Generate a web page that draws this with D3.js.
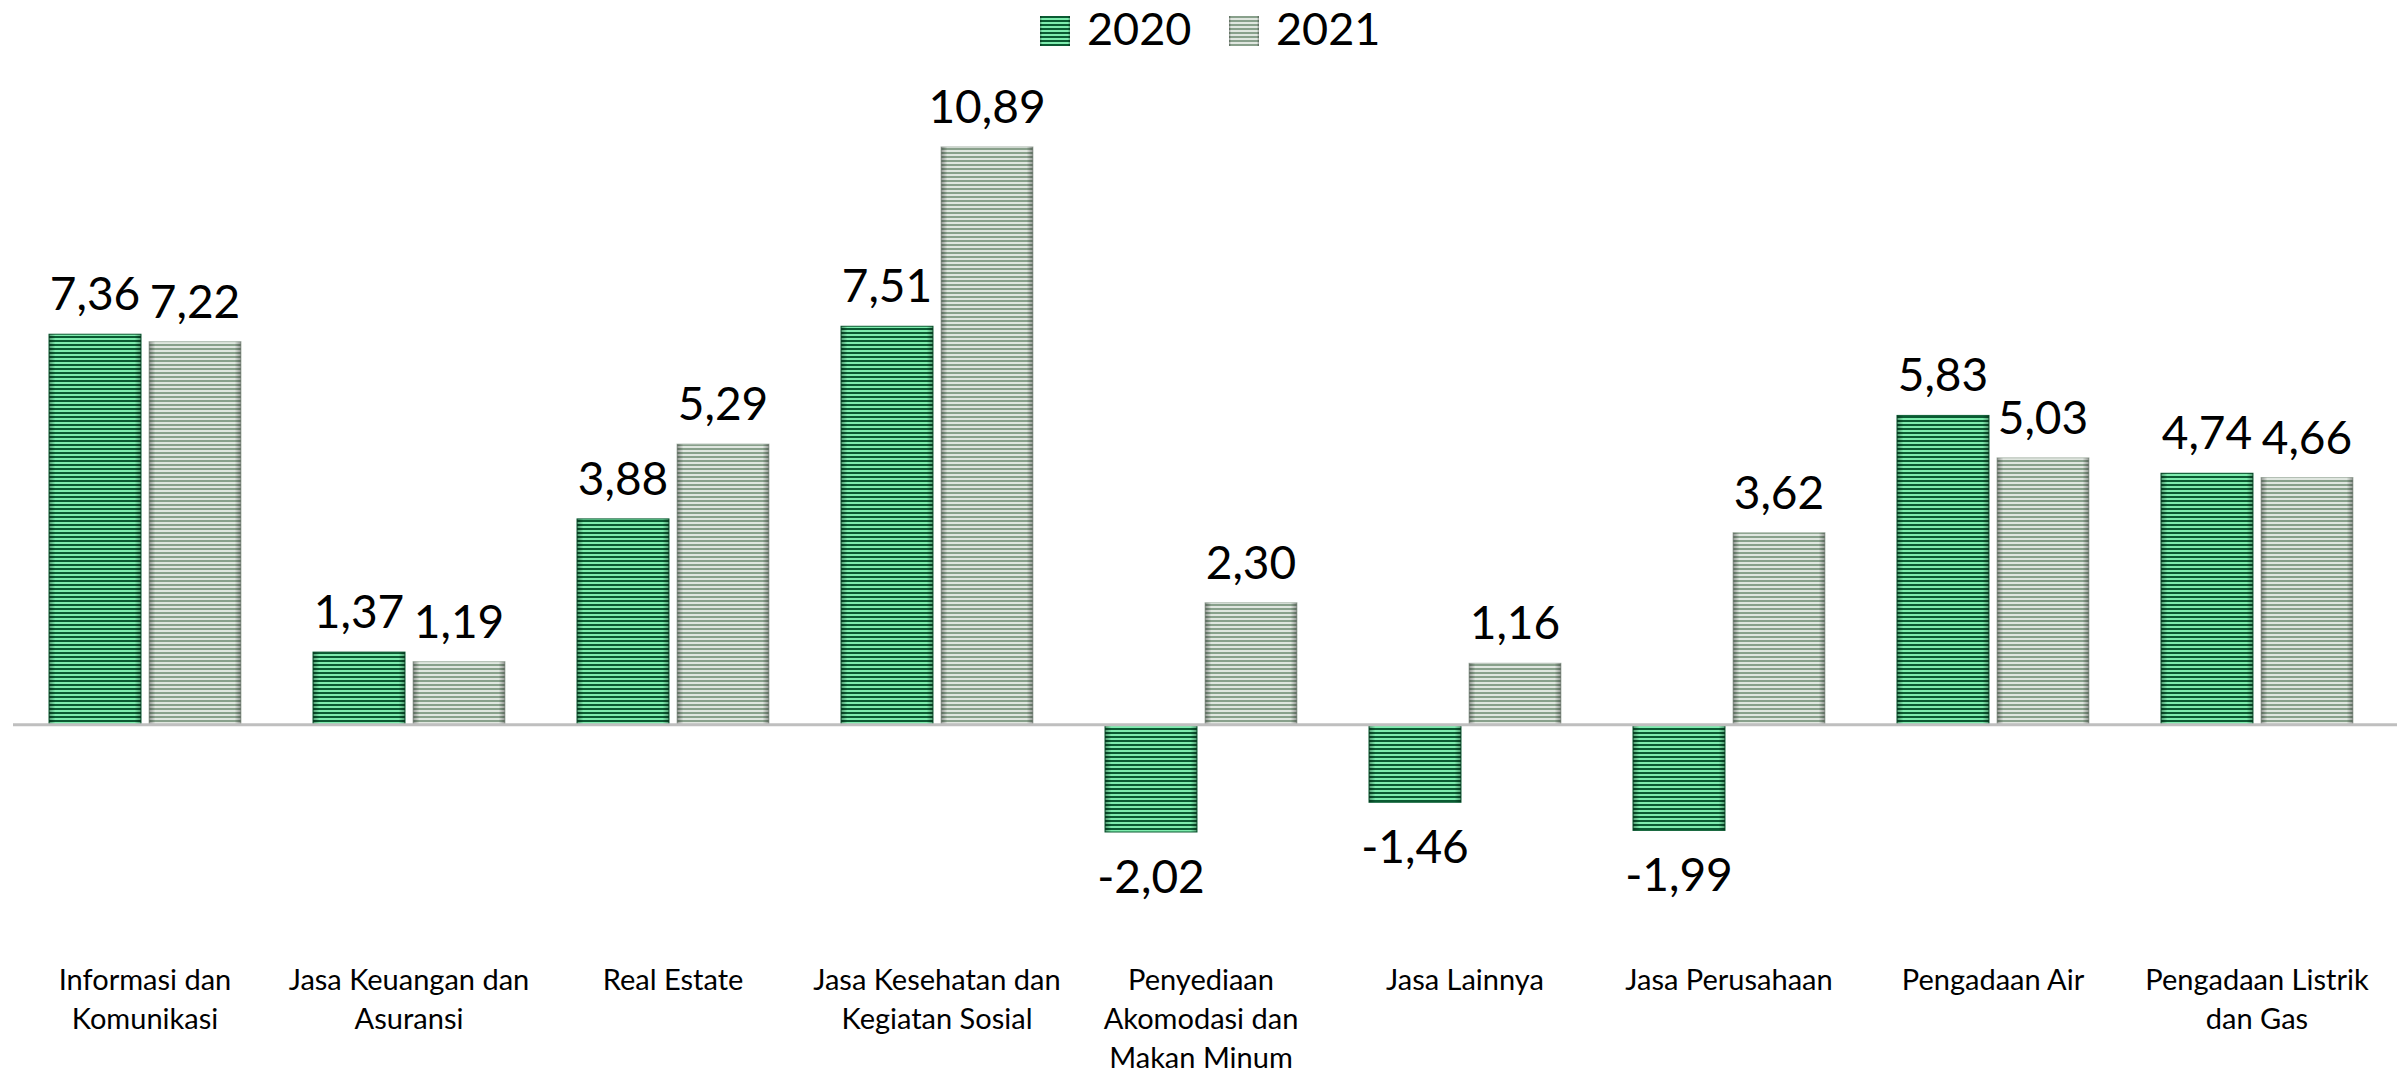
<!DOCTYPE html>
<html lang="id">
<head>
  <meta charset="UTF-8">
  <title>Pertumbuhan 2020 - 2021</title>
  <script src="https://cdn.jsdelivr.net/npm/d3@7/dist/d3.min.js"></script>
  <style>
    html, body { margin: 0; padding: 0; background: #fff; }
    svg { display: block; font-family: Lato, "Open Sans", sans-serif; }
  </style>
</head>
<body>
  <div id="grafica"></div>

  <script>
    // data
    kategori = ['Informasi dan Komunikasi', 'Jasa Keuangan dan Asuransi', 'Real Estate',
                'Jasa Kesehatan dan Kegiatan Sosial', 'Penyediaan Akomodasi dan Makan Minum',
                'Jasa Lainnya', 'Jasa Perusahaan', 'Pengadaan Air', 'Pengadaan Listrik dan Gas']
    labelBaris = [['Informasi dan', 'Komunikasi'], ['Jasa Keuangan dan', 'Asuransi'], ['Real Estate'],
                  ['Jasa Kesehatan dan', 'Kegiatan Sosial'], ['Penyediaan', 'Akomodasi dan', 'Makan Minum'],
                  ['Jasa Lainnya'], ['Jasa Perusahaan'], ['Pengadaan Air'], ['Pengadaan Listrik', 'dan Gas']]
    tahun = ['2020', '2021']
    nilai2020 = [7.36, 1.37, 3.88, 7.51, -2.02, -1.46, -1.99, 5.83, 4.74]
    nilai2021 = [7.22, 1.19, 5.29, 10.89, 2.30, 1.16, 3.62, 5.03, 4.66]

    ancho = 2397
    alto = 1070

    svg = d3.select('#grafica')
      .append('svg')
      .attr('width', ancho)
      .attr('height', alto)

    defs = svg.append('defs')

    // striped fills like the excel pattern
    function stripes(id, dark, light) {
      p = defs.append('pattern')
        .attr('id', id)
        .attr('patternUnits', 'userSpaceOnUse')
        .attr('width', 8).attr('height', 4)
      p.append('rect').attr('width', 8).attr('height', 4).attr('fill', light)
      p.append('rect').attr('width', 8).attr('height', 2).attr('fill', dark)
    }
    stripes('hijau', '#0a5a32', '#7eecae')
    stripes('abu', '#88a08b', '#dfe6df')

    g = defs.append('linearGradient').attr('id', 'tepi')
      .attr('x1', 0).attr('x2', 1).attr('y1', 0).attr('y2', 0)
    g.append('stop').attr('offset', '0%').attr('stop-color', '#000').attr('stop-opacity', 0.35)
    g.append('stop').attr('offset', '7%').attr('stop-color', '#000').attr('stop-opacity', 0)
    g.append('stop').attr('offset', '93%').attr('stop-color', '#000').attr('stop-opacity', 0)
    g.append('stop').attr('offset', '100%').attr('stop-color', '#000').attr('stop-opacity', 0.35)

    warna = { '2020': 'url(#hijau)', '2021': 'url(#abu)' }
    garis = { '2020': '#0a5c32', '2021': '#b3bfb4' }

    data = kategori.map(function(k, i) {
      return { kat: k, baris: labelBaris[i], v: { '2020': nilai2020[i], '2021': nilai2021[i] } }
    })

    x0 = d3.scaleBand()
      .domain(kategori)
      .range([13, 2389])
      .paddingInner(0.2727)
      .paddingOuter(0.1364)

    x1 = d3.scaleBand()
      .domain(tahun)
      .range([0, x0.bandwidth()])
      .paddingInner(0.08)

    y = d3.scaleLinear()
      .domain([-3, 12])
      .range([884, 88])

    grup = svg.selectAll('g.kat')
      .data(data)
      .enter()
      .append('g')
      .attr('class', 'kat')
      .attr('transform', d => 'translate(' + x0(d.kat) + ',0)')

    batang = grup.selectAll('g.bar')
      .data(d => tahun.map(t => ({ t: t, v: d.v[t] })))
      .enter()
      .append('g')
      .attr('class', 'bar')

    batang.append('rect')
      .attr('x', d => x1(d.t))
      .attr('y', d => y(Math.max(0, d.v)))
      .attr('width', x1.bandwidth())
      .attr('height', d => Math.abs(y(d.v) - y(0)))
      .attr('fill', d => warna[d.t])
      .attr('stroke', d => garis[d.t])
      .attr('stroke-width', 1)

    batang.append('rect')
      .attr('x', d => x1(d.t))
      .attr('y', d => y(Math.max(0, d.v)))
      .attr('width', x1.bandwidth())
      .attr('height', d => Math.abs(y(d.v) - y(0)))
      .attr('fill', 'url(#tepi)')

    batang.append('text')
      .attr('x', d => x1(d.t) + x1.bandwidth() / 2)
      .attr('y', d => d.v >= 0 ? y(d.v) - 24 : y(d.v) + 61)
      .attr('text-anchor', 'middle')
      .attr('font-size', 46)
      .attr('fill', '#000')
      .text(d => d.v.toFixed(2).replace('.', ','))

    // zero line
    svg.append('line')
      .attr('x1', 13).attr('x2', ancho)
      .attr('y1', y(0)).attr('y2', y(0))
      .attr('stroke', '#bfbfbf')
      .attr('stroke-width', 3)

    // category labels
    lab = svg.selectAll('text.kat')
      .data(data)
      .enter()
      .append('text')
      .attr('class', 'kat')
      .attr('text-anchor', 'middle')
      .attr('font-size', 29)
      .attr('fill', '#000')
      .attr('x', d => x0(d.kat) + x0.bandwidth() / 2)
    lab.selectAll('tspan')
      .data(d => d.baris)
      .enter()
      .append('tspan')
      .attr('x', function() { return d3.select(this.parentNode).attr('x') })
      .attr('y', (d, i) => 990 + i * 39)
      .text(d => d)

    // legend
    leg = svg.selectAll('g.leg')
      .data(tahun)
      .enter()
      .append('g')
      .attr('class', 'leg')
      .attr('transform', (d, i) => 'translate(' + (1040 + i * 189) + ',16)')
    leg.append('rect')
      .attr('width', 30).attr('height', 30)
      .attr('fill', d => warna[d])
    leg.append('rect')
      .attr('width', 30).attr('height', 30)
      .attr('fill', 'url(#tepi)')
    leg.append('text')
      .attr('x', 47).attr('y', 29)
      .attr('font-size', 45)
      .text(d => d)
  </script>
</body>
</html>
